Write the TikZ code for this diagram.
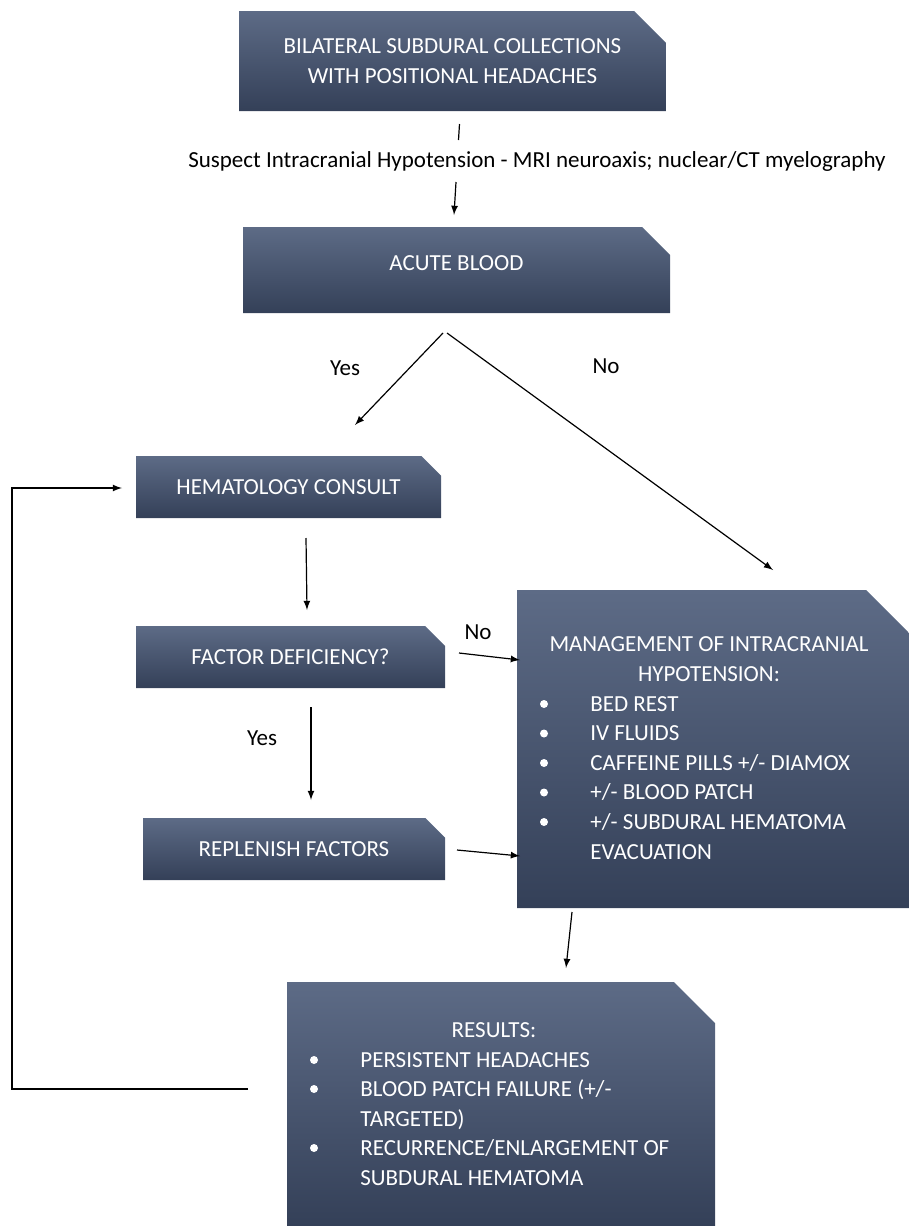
\documentclass[tikz,border=0pt]{standalone}
\usepackage{fontspec}
\setmainfont{Carlito}
\usepackage{tikz}
\usetikzlibrary{arrows,positioning,calc,shapes.misc}
\definecolor{boxtop}{RGB}{93,107,134}
\definecolor{boxbot}{RGB}{52,64,88}
\tikzstyle{box}=[chamfered rectangle,chamfered rectangle corners=north east,top color=boxtop,bottom color=boxbot,text=white,inner sep=0pt,outer sep=0pt,align=center]
\tikzstyle{bigbox}=[top color=boxtop,bottom color=boxbot]
\tikzstyle{item}=[anchor=west,text=white,inner sep=0pt,text height=7.4pt,text depth=0pt]
\tikzstyle{arr}=[-latex,line width=0.6pt]

\begin{document}
\begin{tikzpicture}[x=0.5pt,y=-0.5pt,font=\fontsize{11.5}{14.75}\selectfont]
\useasboundingbox (0,0) rectangle (909,1226);
% boxes
\node [box,minimum width=213.5pt,minimum height=50pt,chamfered rectangle xsep=8pt,chamfered rectangle ysep=8pt] (bilat) at (452.5,61) {BILATERAL SUBDURAL COLLECTIONS\\WITH POSITIONAL HEADACHES};
\node (suspect) at (537,161) {Suspect Intracranial Hypotension - MRI neuroaxis; nuclear/CT myelography};
\node [box,minimum width=213.5pt,minimum height=43pt,chamfered rectangle xsep=7pt,chamfered rectangle ysep=7pt,text height=7.4pt,text depth=7pt] (acute) at (456.5,270) {ACUTE BLOOD};
\node [box,minimum width=152.5pt,minimum height=31pt,chamfered rectangle xsep=6pt,chamfered rectangle ysep=6pt] (hema) at (288.5,487) {HEMATOLOGY CONSULT};
\node [box,minimum width=154.5pt,minimum height=31pt,chamfered rectangle xsep=6pt,chamfered rectangle ysep=6pt] (factor) at (290.5,657) {FACTOR DEFICIENCY?};
\node [box,minimum width=151pt,minimum height=31pt,chamfered rectangle xsep=6pt,chamfered rectangle ysep=6pt] (replen) at (294,849) {REPLENISH FACTORS};
\node [minimum width=196pt,minimum height=159pt,inner sep=0pt,outer sep=0pt] (mgmt) at (713,749) {};
\node [minimum width=214pt,minimum height=122pt,inner sep=0pt,outer sep=0pt] (results) at (501,1104) {};
\shade [bigbox] (mgmt.south west) -- (mgmt.north west) -- ($(mgmt.north east)+(-43,0)$) -- ($(mgmt.north east)+(0,43)$) -- (mgmt.south east) -- cycle;
\shade [bigbox] (results.south west) -- (results.north west) -- ($(results.north east)+(-41,0)$) -- ($(results.north east)+(0,41)$) -- (results.south east) -- cycle;

% management list
\node [text=white,align=center,inner sep=0pt] (mgmthead) at (709,659) {MANAGEMENT OF INTRACRANIAL\\HYPOTENSION:};
\foreach \t [count=\i from 0] in {{BED REST},{IV FLUIDS},{CAFFEINE PILLS +/- DIAMOX},{+/- BLOOD PATCH},{+/- SUBDURAL HEMATOMA}} {
  \fill [white] (544,{704+29.5*\i}) circle (2pt);
  \node [item] (mgmt\i) at (590,{704+29.5*\i}) {\t};
}
\node [item] (mgmt5) at (590,852) {EVACUATION};

% results list
\node [text=white,inner sep=0pt,text height=7.4pt,text depth=0pt] (reshead) at (494,1030) {RESULTS:};
\foreach \y in {1060,1089,1148} \fill [white] (314,\y) circle (2pt);
\node [item] (res1) at (360,1060) {PERSISTENT HEADACHES};
\node [item] (res2) at (360,1089) {BLOOD PATCH FAILURE (+/-};
\node [item] (res3) at (360,1119) {TARGETED)};
\node [item] (res4) at (360,1148) {RECURRENCE/ENLARGEMENT OF};
\node [item] (res5) at (360,1178) {SUBDURAL HEMATOMA};

% connectors
\draw [line width=0.6pt] ($(bilat.south)+(7,13)$) -- ($(bilat.south)+(6,29)$);
\draw [arr] ($(acute.north)+(-0.5,-45)$) -- ($(acute.north)+(-2.5,-12)$);
\draw [arr] ($(acute.south)+(-13.5,20)$) -- ($(hema.north)+(66.5,-31)$);
\draw [arr] ($(acute.south)+(-9.5,20)$) -- ($(mgmt.north)+(60,-20)$);
\node (yes1) at (345,368) {Yes};
\node (no1) at (606,366) {No};
\draw [arr] ($(hema.south)+(17.5,20)$) -- ($(factor.north)+(16.5,-16)$);
\draw [arr] ($(factor.south)+(20.5,19)$) -- ($(replen.north)+(17,-18)$);
\node (yes2) at (262,738) {Yes};
\draw [arr] ($(factor.east)+(14,-4)$) -- ($(mgmt.west)+(3,-89)$);
\node (no2) at (478,632) {No};
\draw [arr] ($(replen.east)+(12,1)$) -- ($(mgmt.west)+(3,107)$);
\draw [arr] ($(mgmt.south)+(-141,4)$) -- ($(results.north)+(65,-14)$);
\draw [arr] ($(results.west)+(-39,-15)$) -- (12,1089) |- ($(hema.west)+(-14,1)$);
\end{tikzpicture}
\end{document}
